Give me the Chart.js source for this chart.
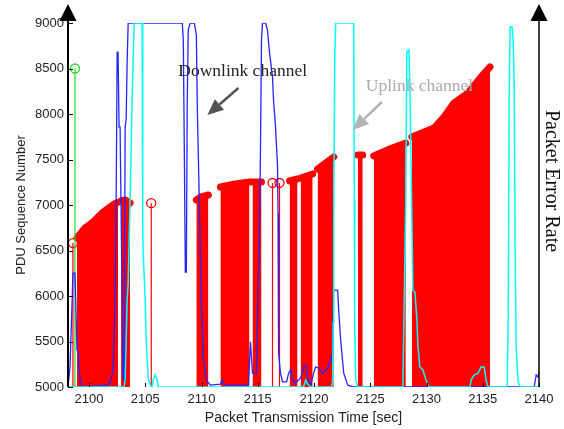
<!DOCTYPE html>
<html>
<head>
<meta charset="utf-8">
<script src="https://cdn.jsdelivr.net/npm/chart.js@4.4.1/dist/chart.umd.min.js"></script>
<style>
  html, body { margin: 0; padding: 0; background: #fff; }
</style>
</head>
<body>
<canvas id="perChart" width="564" height="429"></canvas>
<script>
// PDU sequence numbers and channel error rates

var BASE_SEQ = 5000;

var xTicks = [2100, 2105, 2110, 2115, 2120, 2125, 2130, 2135, 2140];
var yTicks = [5000, 5500, 6000, 6500, 7000, 7500, 8000, 8500, 9000];

// received PDUs (top of the dense stem bursts), bursts split by null
var pduTime = [2098.93, 2099.64, 2100.36, 2101.25, 2101.87, 2102.41, 2102.58, null,
               2102.85, 2103.21, 2103.65, null,
               2109.54, 2109.98, 2110.61, null,
               2111.68, 2113.01, 2114.26, null,
               2114.53, 2115.33, null,
               2117.83, 2118.54, null,
               2118.81, 2119.88, null,
               2120.32, 2121.03, 2121.75, null,
               2123.89, 2124.33, null,
               2125.31, 2126.83, 2128.16, null,
               2128.70, 2130.66, 2131.55, 2132.44, 2133.69, 2134.85, 2135.65];
var pduSeq  = [6637, 6747, 6813, 6923, 6978, 7022, 7030, null,
               7044, 7055, 7022, null,
               7055, 7090, 7110, null,
               7198, 7231, 7253, null,
               7253, 7253, null,
               7264, 7286, null,
               7297, 7341, null,
               7396, 7462, 7528, null,
               7550, 7550, null,
               7540, 7620, 7680, null,
               7748, 7846, 7967, 8121, 8231, 8407, 8517];

// single PDUs drawn as thin stems
var stemTime = [2098.57, 2105.53, 2116.31, 2116.93];
var stemSeq  = [6582, 7020, 7242, 7242];

// first PDU (green)
var firstTime = [2098.75];
var firstSeq  = [8500];

// downlink channel packet error rate (0..1)
var dlTime = [2098.13, 2098.31, 2098.48, 2098.57, 2098.75, 2098.93, 2099.02, 2099.20, 2099.38,
              2101.60, 2101.87, 2102.14, 2102.32, 2102.41, 2102.50, 2102.58, 2102.67, 2102.76,
              2102.85, 2102.94, 2103.03, 2103.12, 2103.21, 2103.30, 2103.39, 2103.48,
              2108.29, 2108.38, 2108.47, 2108.56, 2108.65, 2108.73, 2108.82, 2109.00, 2109.36,
              2109.54, 2109.63, 2109.80, 2109.98, 2110.16, 2110.43, 2110.78, 2111.68, 2111.85,
              2112.03, 2114.17, 2114.35, 2114.53, 2114.88, 2115.06, 2115.15, 2115.24, 2115.33,
              2115.42, 2115.69, 2115.86, 2116.04, 2116.31, 2116.40, 2116.58, 2116.76, 2116.80,
              2116.85, 2117.02, 2117.20, 2117.56, 2117.74, 2117.92, 2118.09, 2118.36, 2118.81,
              2119.07, 2119.25, 2119.43, 2119.70, 2119.97, 2120.14, 2120.41, 2120.77, 2121.21,
              2121.48, 2121.66, 2121.75, 2122.10, 2122.19, 2122.37, 2122.64, 2123.00, 2123.53,
              2139.57, 2139.75, 2139.93, 2140.00];
var dlPer  = [0, 0.055, 0.22, 0.313, 0.313, 0.102, 0.096, 0.019, 0,
              0.005, 0.011, 0.047, 0.239, 0.514, 0.92, 0.92, 0.714, 0.714,
              0.486, 0.239, 0.019, 0.019, 0.714, 0.734, 0.898, 1,
              1, 0.953, 0.651, 0.316, 0.316, 0.788, 0.981, 1, 1,
              0.967, 0.761, 0.514, 0.239, 0.074, 0.019, 0.005, 0.008, 0.019,
              0.005, 0.005, 0.124, 0.038, 0.038, 0.313, 0.423, 0.651, 0.953,
              1, 1, 0.981, 0.92, 0.852, 0.788, 0.714, 0.604, 0.478,
              0.093, 0.038, 0.014, 0.014, 0.038, 0.047, 0.019, 0.011, 0.025,
              0.055, 0.06, 0.027, 0.005, 0.038, 0.055, 0.052, 0.038, 0.052,
              0.074, 0.093, 0.266, 0.266, 0.212, 0.129, 0.038, 0.005, 0,
              0, 0.033, 0.027, 0.041];

// uplink channel packet error rate (0..1)
var ulTime = [2098.13, 2103.12, 2103.21, 2103.39, 2103.48, 2103.65, 2103.83, 2104.01, 2104.72,
              2104.77, 2104.81, 2104.99, 2105.08, 2105.26, 2105.44, 2105.62, 2105.70, 2105.88,
              2106.06, 2106.15, 2119.07, 2119.25, 2119.43, 2119.70, 2121.57, 2121.66, 2121.70,
              2121.75, 2121.84, 2121.93, 2123.53, 2123.58, 2123.62, 2123.71, 2123.89, 2127.90,
              2127.99, 2128.16, 2128.25, 2128.43, 2128.52, 2128.61, 2128.70, 2128.79, 2128.97,
              2129.15, 2129.23, 2129.41, 2129.68, 2129.95, 2130.21, 2133.87, 2133.96, 2134.23,
              2134.58, 2134.85, 2135.12, 2135.30, 2135.47, 2137.17, 2137.26, 2137.35, 2137.43,
              2137.61, 2137.70, 2137.79, 2137.88, 2137.97, 2138.15, 2138.33, 2140.00];
var ulPer  = [0, 0, 0.019, 0.239, 0.286, 0.514, 0.788, 1, 1,
              0.459, 0.376, 0.239, 0.129, 0.025, 0.005, 0, 0.019, 0.033,
              0.019, 0, 0, 0.019, 0.008, 0, 0, 0.019, 0.176,
              0.459, 0.898, 1, 1, 0.514, 0.157, 0.019, 0, 0,
              0.184, 0.514, 0.92, 0.926, 0.835, 0.651, 0.459, 0.266, 0.261,
              0.184, 0.115, 0.055, 0.047, 0.019, 0, 0, 0.019, 0.033,
              0.038, 0.055, 0.055, 0.019, 0, 0, 0.184, 0.788, 0.989,
              0.989, 0.953, 0.843, 0.376, 0.11, 0.014, 0, 0];

function pairs(xs, ys) {
    return xs.map(function(x, i) { return { x: x, y: ys[i] }; });
}

function stems(xs, ys) {
    var out = [];
    xs.forEach(function(x, i) {
        out.push({ x: x, y: BASE_SEQ });
        out.push({ x: x, y: ys[i] });
        out.push({ x: null, y: null });
    });
    return out;
}

function onlyTop(ctx) {
    return ctx.raw && ctx.raw.y !== BASE_SEQ ? 4.5 : 0;
}

function plainNumber(v) {
    return String(v);
}

// axes with arrow heads, inward ticks, labels and annotation arrows
var overlay = {
    id: 'overlay',
    afterDraw: function(chart) {
        var ctx = chart.ctx, a = chart.chartArea;
        var xs = chart.scales.x, ys = chart.scales.y;
        ctx.save();

        ctx.strokeStyle = '#000';
        ctx.lineWidth = 1;
        ctx.beginPath();
        yTicks.forEach(function(v) {
            var p = Math.round(ys.getPixelForValue(v)) + 0.5;
            ctx.moveTo(a.left, p); ctx.lineTo(a.left + 5, p);
        });
        xTicks.forEach(function(v) {
            var p = Math.round(xs.getPixelForValue(v)) + 0.5;
            ctx.moveTo(p, a.bottom); ctx.lineTo(p, a.bottom - 4);
        });
        ctx.stroke();

        function axis(x, w) {
            ctx.strokeStyle = '#000';
            ctx.lineWidth = w;
            ctx.beginPath();
            ctx.moveTo(x, a.bottom);
            ctx.lineTo(x, a.top - 8);
            ctx.stroke();
            ctx.fillStyle = '#000';
            ctx.beginPath();
            ctx.moveTo(x, 4);
            ctx.lineTo(x - 8.5, 21);
            ctx.lineTo(x + 8.5, 21);
            ctx.closePath();
            ctx.fill();
        }
        axis(a.left, 2);
        axis(a.right, 1.5);

        function arrow(t0, s0, t1, s1, color) {
            var x0 = xs.getPixelForValue(t0), y0 = ys.getPixelForValue(s0);
            var x1 = xs.getPixelForValue(t1), y1 = ys.getPixelForValue(s1);
            var ang = Math.atan2(y1 - y0, x1 - x0);
            var hl = 16, hw = 7;
            var bx = x1 - hl * Math.cos(ang), by = y1 - hl * Math.sin(ang);
            ctx.strokeStyle = color;
            ctx.fillStyle = color;
            ctx.lineWidth = 2.5;
            ctx.beginPath();
            ctx.moveTo(x0, y0);
            ctx.lineTo(bx, by);
            ctx.stroke();
            ctx.beginPath();
            ctx.moveTo(x1, y1);
            ctx.lineTo(bx + hw * Math.sin(ang), by - hw * Math.cos(ang));
            ctx.lineTo(bx - hw * Math.sin(ang), by + hw * Math.cos(ang));
            ctx.closePath();
            ctx.fill();
        }

        ctx.font = '17.5px "Liberation Serif", "Times New Roman", serif';
        ctx.textBaseline = 'middle';
        ctx.textAlign = 'left';
        ctx.fillStyle = '#222';
        ctx.fillText('Downlink channel', xs.getPixelForValue(2107.93), ys.getPixelForValue(8473));
        arrow(2113.28, 8286, 2110.52, 7989, '#555');

        ctx.fillStyle = '#aaa';
        ctx.fillText('Uplink channel', xs.getPixelForValue(2124.6), ys.getPixelForValue(8308));
        arrow(2126.03, 8132, 2123.44, 7824, '#b4b4b4');

        ctx.translate(a.right + 12, a.top + 158);
        ctx.rotate(Math.PI / 2);
        ctx.textAlign = 'center';
        ctx.fillStyle = '#111';
        ctx.font = '20px "Liberation Serif", "Times New Roman", serif';
        ctx.fillText('Packet Error Rate', 0, 0);

        ctx.restore();
    }
};

var sansFont = '"Liberation Sans", Arial, sans-serif';

new Chart(document.getElementById('perChart'), {
    type: 'line',
    data: {
        datasets: [{
            label: 'Uplink PER',
            data: pairs(ulTime, ulPer),
            yAxisID: 'y2',
            borderColor: '#00ffff',
            borderWidth: 1.5,
            pointRadius: 0,
            fill: false,
            order: 1
        }, {
            label: 'Downlink PER',
            data: pairs(dlTime, dlPer),
            yAxisID: 'y2',
            borderColor: '#2525ff',
            borderWidth: 1.3,
            pointRadius: 0,
            fill: false,
            order: 2
        }, {
            label: 'First PDU',
            data: stems(firstTime, firstSeq),
            borderColor: '#22dd22',
            borderWidth: 1.2,
            pointRadius: onlyTop,
            pointBorderColor: '#22dd22',
            pointBackgroundColor: 'rgba(0,0,0,0)',
            pointBorderWidth: 1.3,
            fill: false,
            order: 3
        }, {
            label: 'Single PDUs',
            data: stems(stemTime, stemSeq),
            borderColor: '#ff0000',
            borderWidth: 1.2,
            pointRadius: onlyTop,
            pointBorderColor: '#ff0000',
            pointBackgroundColor: 'rgba(0,0,0,0)',
            pointBorderWidth: 1.3,
            fill: false,
            order: 4
        }, {
            label: 'PDU Sequence Number',
            data: pairs(pduTime, pduSeq),
            borderColor: '#ff0000',
            backgroundColor: '#ff0000',
            borderWidth: 7,
            borderCapStyle: 'round',
            borderJoinStyle: 'round',
            pointRadius: 0,
            fill: { value: BASE_SEQ },
            spanGaps: false,
            order: 5
        }]
    },
    options: {
        responsive: false,
        animation: false,
        devicePixelRatio: 1,
        layout: { padding: { top: 23, right: 25, left: 0, bottom: 0 } },
        plugins: {
            legend: { display: false },
            tooltip: { enabled: false }
        },
        scales: {
            x: {
                type: 'linear',
                min: 2098.13,
                max: 2140,
                offset: false,
                grid: { display: false, drawTicks: false },
                border: { display: false },
                afterBuildTicks: function(s) { s.ticks = xTicks.map(function(v) { return { value: v }; }); },
                afterFit: function(s) { s.height = 42; },
                ticks: { font: { family: sansFont, size: 13 }, color: '#222', padding: 5, maxRotation: 0,
                         autoSkip: false, callback: plainNumber },
                title: { display: true, text: 'Packet Transmission Time [sec]', color: '#222',
                         font: { family: sansFont, size: 14 }, padding: { top: 0, bottom: 2 } }
            },
            y: {
                type: 'linear',
                min: 5000,
                max: 9000,
                grid: { display: false, drawTicks: false },
                border: { display: false },
                afterBuildTicks: function(s) { s.ticks = yTicks.map(function(v) { return { value: v }; }); },
                afterFit: function(s) { s.width = 68; },
                ticks: { font: { family: sansFont, size: 13 }, color: '#222', padding: 4, callback: plainNumber },
                title: { display: true, text: 'PDU Sequence Number', color: '#222',
                         font: { family: sansFont, size: 13 }, padding: { top: 14, bottom: 0 } }
            },
            y2: {
                type: 'linear',
                min: 0,
                max: 1,
                display: false
            }
        }
    },
    plugins: [overlay]
});
</script>
</body>
</html>
